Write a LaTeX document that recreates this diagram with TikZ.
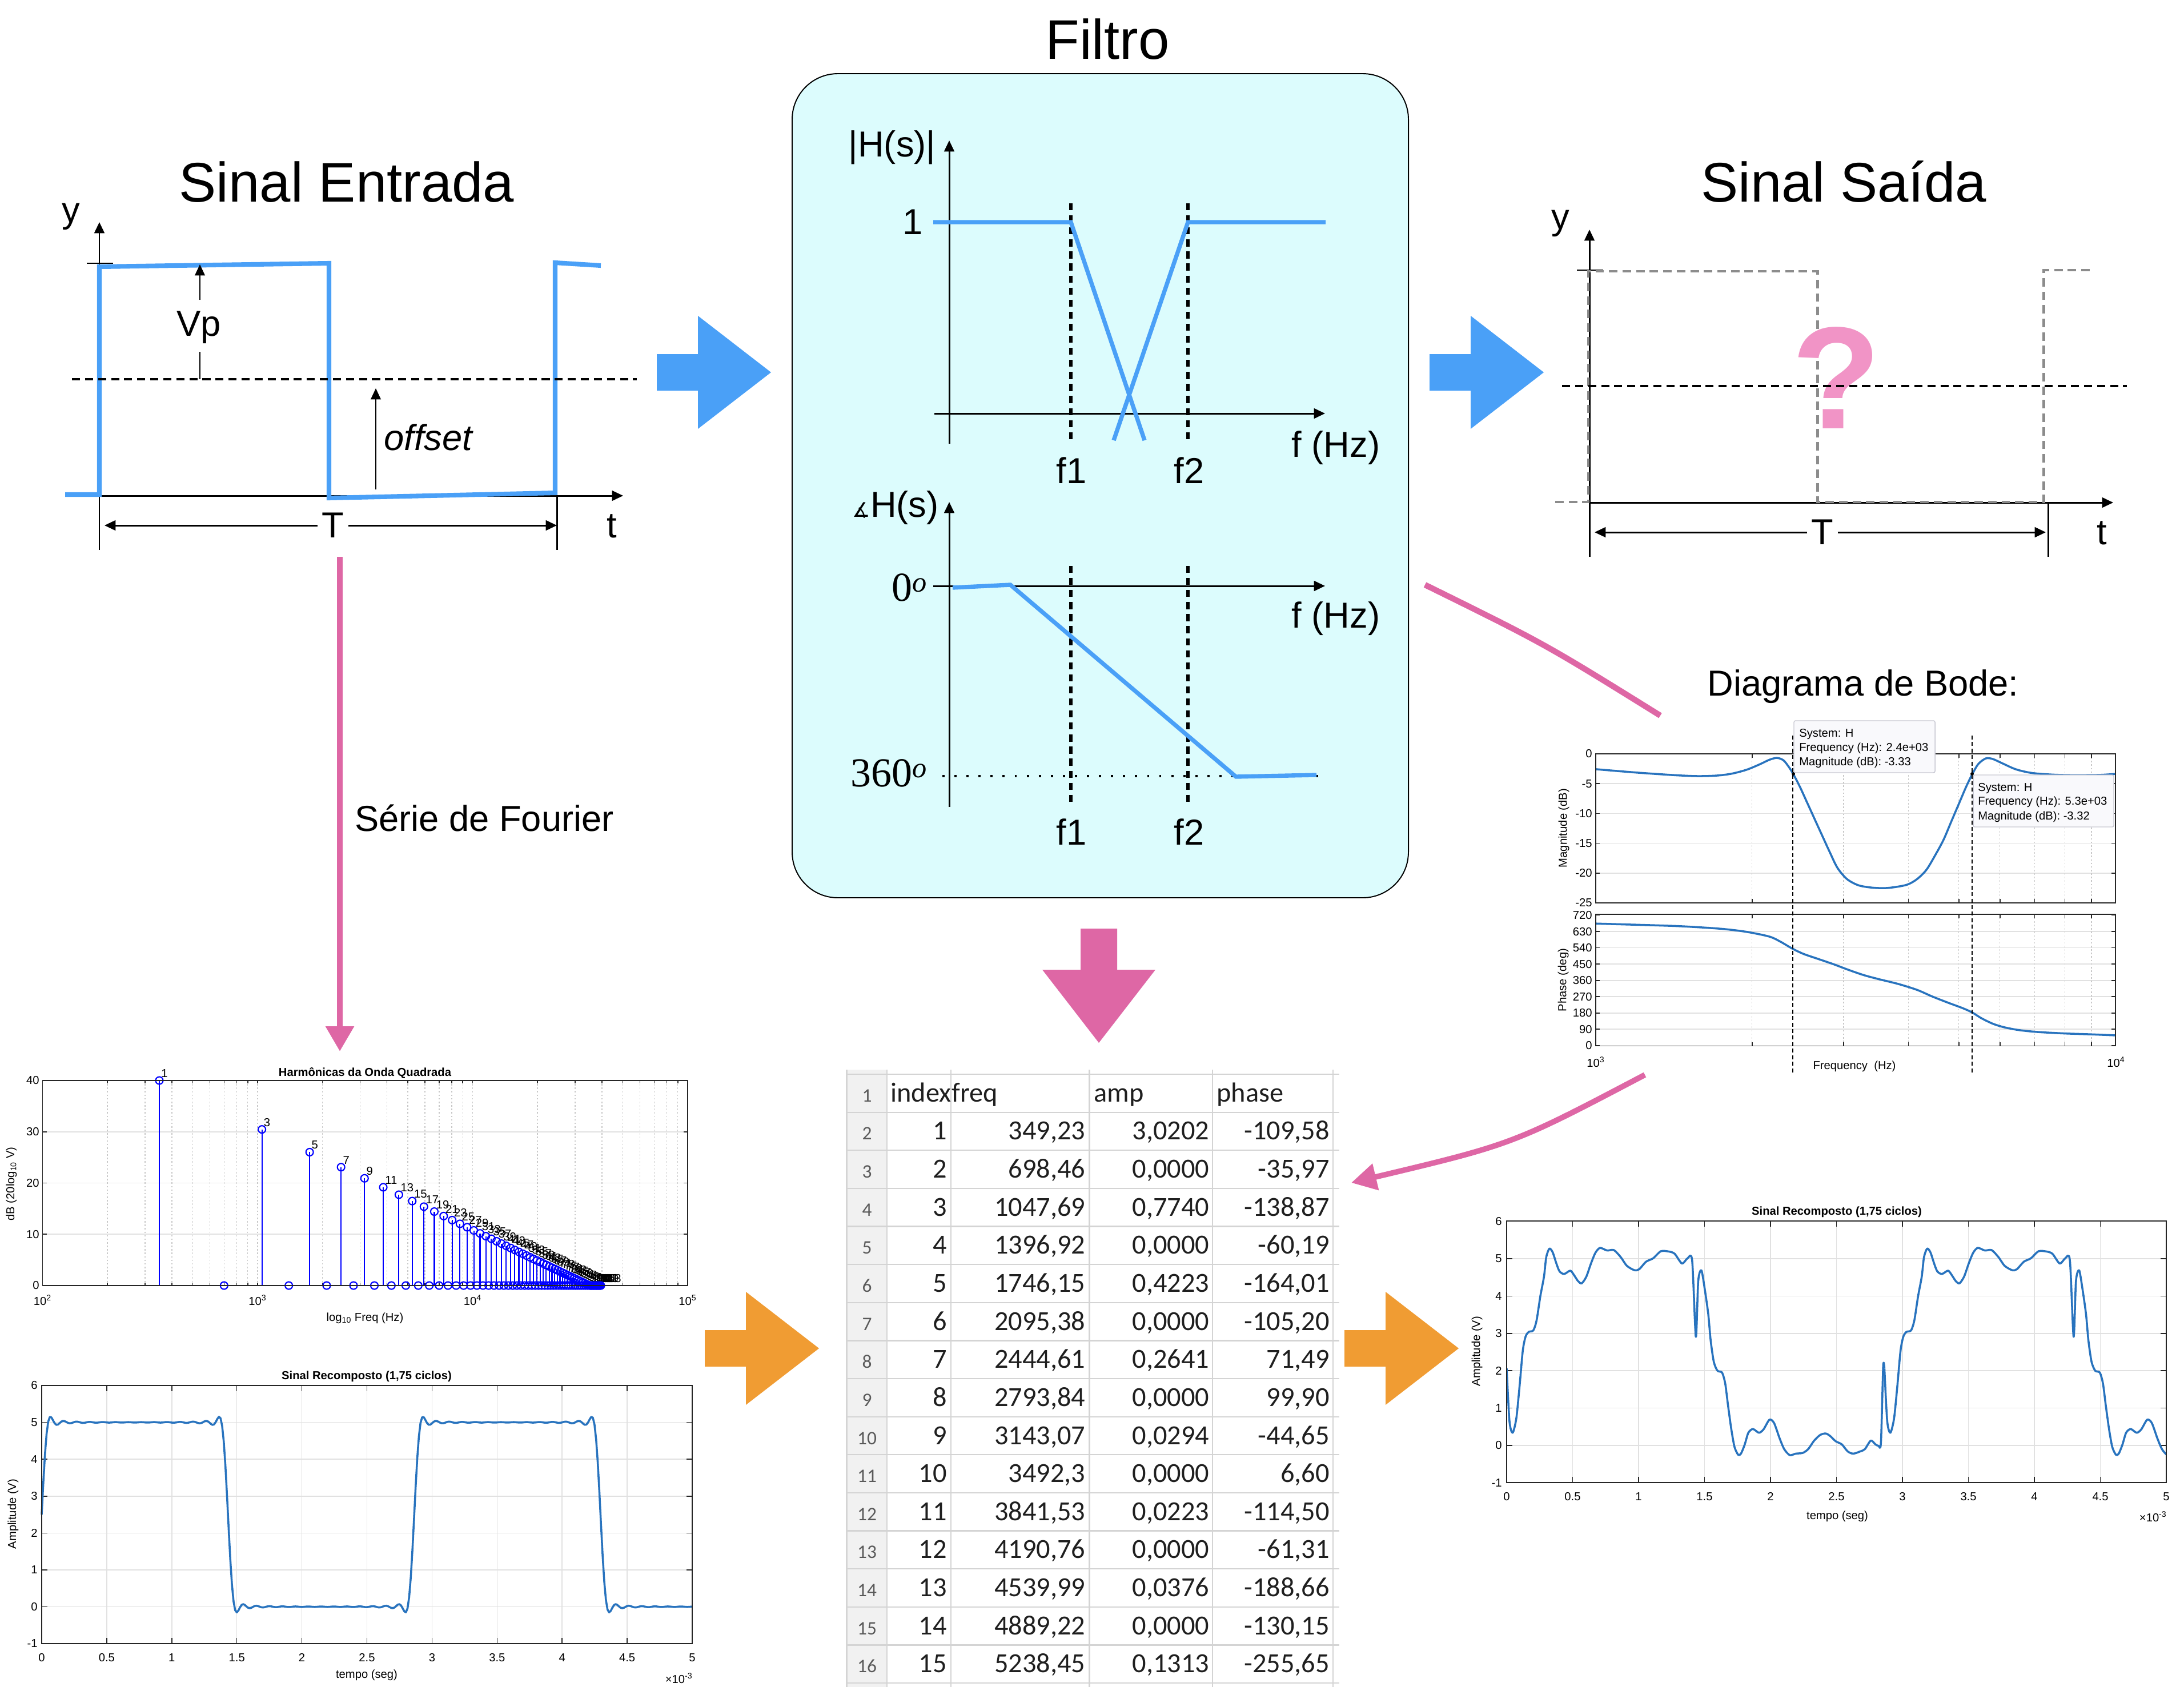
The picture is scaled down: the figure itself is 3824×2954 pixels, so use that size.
\documentclass[tikz,border=0pt]{standalone}
\usepackage{fontspec}
\setmainfont{Liberation Sans}
\newfontfamily\serifnum{Liberation Serif}
\newfontfamily\tabfont{Carlito}
\newfontfamily\symfont{DejaVu Sans}
\usetikzlibrary{arrows.meta}
\definecolor{sigblue}{RGB}{74,160,247}
\definecolor{pinkc}{RGB}{222,103,165}
\definecolor{qpink}{RGB}{241,148,198}
\definecolor{orangec}{RGB}{240,156,51}
\definecolor{cyanfill}{RGB}{220,252,253}
\definecolor{mlblue}{RGB}{40,115,190}
\definecolor{gridc}{RGB}{225,225,225}
\definecolor{gridd}{RGB}{200,200,200}
\definecolor{axc}{RGB}{38,38,38}
\definecolor{dgray}{RGB}{140,140,140}
\definecolor{tgrid}{RGB}{212,212,212}
\definecolor{thead}{RGB}{241,241,241}
\definecolor{ttext}{RGB}{90,90,90}
\definecolor{tipfill}{RGB}{249,249,252}
\definecolor{tipdraw}{RGB}{200,200,210}
\tikzset{
  blockarrow/.pic={\fill (0,-32) -- (72,-32) -- (72,-99) -- (200,0) -- (72,99) -- (72,32) -- (0,32) -- cycle;},
  titlefont/.style={font=\fontsize{55.6}{62}\selectfont, anchor=base, inner sep=0pt},
  lbl/.style={font=\fontsize{36}{40}\selectfont, inner sep=0pt},
  axline/.style={black, line width=1.7pt},
  thinline/.style={black, line width=1.2pt},
  axarrow/.style={-{Triangle[length=11pt,width=10pt]}},
  sigline/.style={sigblue, line width=4.6pt},
  fsig/.style={sigblue, line width=4.2pt},
  dotline/.style={black, line width=2.8pt, dash pattern=on 8pt off 5pt},
  graydash/.style={dgray, line width=2.8pt, dash pattern=on 8.5pt off 5pt},
  fdot/.style={black, line width=3.2pt, dash pattern=on 7pt off 5pt},
  pinkline/.style={pinkc, line width=5.8pt},
  mlfont/.style={font=\fontsize{11.5}{13}\selectfont, inner sep=0pt},
  mltitle/.style={font=\fontsize{11.5}{13}\selectfont\bfseries, inner sep=0pt, anchor=base},
  mlbox/.style={axc, line width=1.1pt},
  mltick/.style={axc, line width=0.9pt},
  gridh/.style={gridc, line width=0.9pt},
  gridv/.style={gridd, line width=0.8pt, dash pattern=on 1.5pt off 2pt},
  mlcurve/.style={mlblue, line width=2pt, line join=round},
  stem/.style={blue, line width=1.2pt},
  tline/.style={tgrid, line width=1.3pt},
  tcell/.style={font=\tabfont\fontsize{27.5}{30}\selectfont, text=black!88, inner sep=0pt},
  rownum/.style={font=\tabfont\fontsize{19}{20}\selectfont, text=ttext, inner sep=0pt, anchor=base},
  tipbox/.style={fill=tipfill, draw=tipdraw, line width=0.8pt, rounded corners=1.5pt},
}
\begin{document}
\begin{tikzpicture}[x=0.2mm,y=-0.2mm,
  declare function={sqth(\x)=mod(125.7228*\x,360);
   sqw(\x)=2.5+3.17976*sin(sqth(\x))+1.05102*sin(3*sqth(\x))+0.61996*sin(5*sqth(\x))+0.43147*sin(7*sqth(\x))+0.32386*sin(9*sqth(\x))+0.25306*sin(11*sqth(\x))+0.20210*sin(13*sqth(\x))+0.16306*sin(15*sqth(\x))+0.13172*sin(17*sqth(\x))+0.10558*sin(19*sqth(\x))+0.08304*sin(21*sqth(\x))+0.06284*sin(23*sqth(\x))+0.04369*sin(25*sqth(\x))+0.02266*sin(27*sqth(\x));}]
\useasboundingbox (0,0) rectangle (3824,2954);
\fill[white] (0,0) rectangle (3824,2954);

%================ Input signal ================
\node[titlefont] (tin) at (607,353) {Sinal Entrada};
\node[lbl, anchor=base] (yin) at (124,389) {y};
\draw[axline, axarrow] (174,963) -- (174,389);
\draw[axline] (152,461) -- (198,461);
\draw[axline, axarrow] (174,868) -- (1091,868);
\draw[axline] (975,868) -- (975,963);
\draw[sigline] (114,866) -- (174,866) -- (174,467) -- (576,461) -- (576,872) -- (972,863) -- (972,460) -- (1052,465);
\draw[dotline] (126,664) -- (1115,664);
\node[lbl] (vp) at (348,573) {Vp};
\draw[thinline, axarrow] (350,525) -- (350,463);
\draw[thinline] (350,616) -- (350,664);
\draw[thinline, axarrow] (658,857) -- (658,680);
\node[lbl, anchor=base west, font=\fontsize{36}{40}\selectfont\itshape] (off) at (672,788) {offset};
\node[lbl, inner sep=4pt] (Tin) at (583,920) {T};
\draw[axline, axarrow] (Tin.west) -- (183,920);
\draw[axline, axarrow] (Tin.east) -- (975,920);
\node[lbl, anchor=base] (tin2) at (1071,941) {t};

%================ Output signal ================
\node[titlefont] (tout) at (3228,353) {Sinal Saída};
\node[lbl, anchor=base] (yout) at (2732,401) {y};
\draw[axline, axarrow] (2783,975) -- (2783,402);
\draw[axline] (2761,473) -- (2807,473);
\draw[axline, axarrow] (2783,880) -- (3700,880);
\draw[axline] (3586,880) -- (3586,975);
\draw[graydash] (2723,879) -- (2781,879) -- (2781,475) -- (3182,475) -- (3182,879) -- (3578,879) -- (3578,473) -- (3661,473);
\node[anchor=base, inner sep=0pt, text=qpink, font=\fontsize{145}{150}\selectfont\bfseries] (qm) at (3215,750) {?};
\draw[dotline] (2735,676) -- (3724,676);
\node[lbl, inner sep=4pt] (Tout) at (3191,932) {T};
\draw[axline, axarrow] (Tout.west) -- (2792,932);
\draw[axline, axarrow] (Tout.east) -- (3582,932);
\node[lbl, anchor=base] (tout2) at (3680,953) {t};

%================ Filter ================
\node[titlefont] (tfil) at (1939,104) {Filtro};
\draw[line width=1.1pt, fill=cyanfill, rounded corners=16mm] (1387,129) rectangle (2466,1572);
% magnitude
\draw[axline, axarrow] (1662,777) -- (1662,246);
\draw[axline, axarrow] (1636,724) -- (2320,724);
\draw[fdot] (1875,356) -- (1875,776);
\draw[fdot] (2080,356) -- (2080,776);
\draw[fsig] (1634,389) -- (1875,389) -- (2004,771);
\draw[fsig] (1950,771) -- (2080,389) -- (2321,389);
\node[lbl, anchor=base] (hmag) at (1562,274) {|H(s)|};
\node[lbl, anchor=base] (one) at (1598,410) {1};
\node[lbl, anchor=base] (fa1) at (1876,846) {f1};
\node[lbl, anchor=base] (fa2) at (2082,846) {f2};
\node[lbl, anchor=base] (fhz1) at (2339,800) {f (Hz)};
% phase
\draw[axline, axarrow] (1662,1413) -- (1662,879);
\draw[axline, axarrow] (1634,1026) -- (2320,1026);
\draw[fdot] (1875,991) -- (1875,1408);
\draw[fdot] (2080,991) -- (2080,1408);
\draw[black, line width=2.2pt, dash pattern=on 2.2pt off 9.8pt] (1650,1359) -- (2324,1359);
\draw[fsig] (1668,1029) -- (1769,1024) -- (2164,1360) -- (2305,1357);
\node[lbl, anchor=base] (hph) at (1568,905) {{\symfont\fontsize{20}{20}\selectfont ∡}H(s)};
\node[lbl, anchor=base east, font=\serifnum\fontsize{41}{44}\selectfont] (zdeg) at (1624,1052) {0\textsuperscript{\itshape o}};
\node[lbl, anchor=base east, font=\serifnum\fontsize{41}{44}\selectfont] (tdeg) at (1624,1377) {360\textsuperscript{\itshape o}};
\node[lbl, anchor=base] (fb1) at (1876,1479) {f1};
\node[lbl, anchor=base] (fb2) at (2082,1479) {f2};
\node[lbl, anchor=base] (fhz2) at (2339,1099) {f (Hz)};

%================ Block arrows ================
\pic[color=sigblue] (arrA) at (1150,652) {blockarrow};
\pic[color=sigblue] (arrB) at (2503,652) {blockarrow};
\pic[color=pinkc, rotate=-90] (arrC) at (1924,1626) {blockarrow};
\pic[color=orangec] (arrD) at (1234,2361) {blockarrow};
\pic[color=orangec] (arrE) at (2354,2361) {blockarrow};

%================ Pink connectors ================
\coordinate (fs0) at (595,975);
\coordinate (fs1) at (595,1841);
\draw[pinkline, line width=6pt, -{Triangle[length=25pt,width=27pt]}] (fs0) -- (fs1);
\node[lbl, anchor=base] (fourier) at (848,1455) {Série de Fourier};
\coordinate (bd0) at (2495,1024);
\coordinate (bd1) at (2907,1253);
\draw[pinkline] (bd0) .. controls (2705,1127.5) .. (bd1);
\coordinate (bt0) at (2880,1882);
\coordinate (bt1) at (2366,2071);
\draw[pinkline, line width=5.5pt, -{Triangle[length=25pt,width=26pt]}] (bt0) .. controls (2649,2003.5) .. (bt1);
\node[lbl, anchor=base] (bodet) at (3262,1218) {Diagrama de Bode:};

%================ Bode plot ================
\foreach \hv in {-5,-10,-15,-20} \draw[gridh] (2794,{1320-10.44*\hv}) -- (3703.5,{1320-10.44*\hv});
\foreach \hv in {90,180,...,630} \draw[gridh] (2794,{1830.7-0.3167*\hv}) -- (3703.5,{1830.7-0.3167*\hv});
\foreach \hk in {2,...,9} {
  \pgfmathsetmacro\bxx{2794+909.5*log10(\hk)}
  \draw[gridv] (\bxx,1320) -- (\bxx,1581);
  \draw[gridv] (\bxx,1600.6) -- (\bxx,1831.5);
  \draw[mltick] (\bxx,1320) -- (\bxx,1327) (\bxx,1581) -- (\bxx,1574);
  \draw[mltick] (\bxx,1600.6) -- (\bxx,1607.6) (\bxx,1831.5) -- (\bxx,1824.5);
}
\foreach \hv in {0,-5,-10,-15,-20,-25} {
  \draw[mltick] (2794,{1320-10.44*\hv}) -- (2801,{1320-10.44*\hv}) (3703.5,{1320-10.44*\hv}) -- (3696.5,{1320-10.44*\hv});
  \node[mlfont, anchor=east] at (2788,{1320-10.44*\hv}) {\hv};
}
\foreach \hv in {0,90,180,...,720} {
  \draw[mltick] (2794,{1830.7-0.3167*\hv}) -- (2801,{1830.7-0.3167*\hv}) (3703.5,{1830.7-0.3167*\hv}) -- (3696.5,{1830.7-0.3167*\hv});
  \node[mlfont, anchor=east] at (2788,{1830.7-0.3167*\hv}) {\hv};
}
\draw[mlcurve] plot[smooth, tension=0.5] coordinates {(2794.2,1346.9) (2865.8,1352.8) (2932.1,1357.3) (2971.9,1359.0) (3005.1,1358.1) (3031.6,1354.8) (3058.2,1347.8) (3081.4,1338.2) (3098.0,1330.4) (3111.2,1327.1) (3122.5,1331.2) (3131.1,1341.6) (3139.1,1354.0) (3151.0,1376.8) (3164.3,1405.8) (3177.5,1434.8) (3190.8,1463.9) (3204.1,1492.9) (3217.3,1519.8) (3233.9,1539.3) (3253.8,1550.1) (3277.0,1554.2) (3300.3,1555.1) (3320.1,1553.0) (3340.0,1548.8) (3356.6,1539.3) (3373.2,1522.7) (3389.8,1494.9) (3403.1,1470.1) (3416.3,1439.0) (3429.6,1407.9) (3442.9,1376.8) (3454.1,1354.0) (3464.1,1337.4) (3477.3,1327.9) (3489.3,1329.1) (3505.9,1336.6) (3529.1,1346.9) (3555.6,1353.2) (3588.8,1356.1) (3628.6,1357.3) (3675.0,1356.9) (3703.5,1355.2)};
\draw[mlcurve] plot[smooth, tension=0.5] coordinates {(2794.2,1617.2) (2865.8,1619.3) (2932.1,1621.4) (2978.6,1623.9) (3018.4,1626.8) (3058.2,1631.7) (3098.0,1640.0) (3117.9,1649.2) (3137.8,1660.8) (3157.7,1670.3) (3184.2,1679.4) (3210.7,1688.5) (3237.2,1698.5) (3263.8,1707.6) (3290.3,1714.7) (3323.5,1722.9) (3356.6,1733.3) (3383.2,1744.9) (3409.7,1755.3) (3436.2,1765.2) (3452.8,1772.7) (3469.4,1783.0) (3489.3,1792.6) (3509.2,1798.8) (3535.7,1803.8) (3568.9,1807.1) (3615.3,1809.6) (3661.7,1811.2) (3703.5,1812.9)};
\draw[mlbox] (2794,1320) rectangle (3703.5,1581);
\draw[mlbox] (2794,1600.6) rectangle (3703.5,1831.5);
\draw[black, line width=0.8pt, dash pattern=on 4pt off 2.5pt] (3139,1288) -- (3139,1878);
\draw[black, line width=0.8pt, dash pattern=on 4pt off 2.5pt] (3453,1288) -- (3453,1878);
\fill[black] (3140,1355) circle[radius=0.6mm];
\fill[black] (3453,1355) circle[radius=0.6mm];
\draw[tipbox] (3141,1262) rectangle (3388,1353);
\draw[tipbox] (3455,1357) rectangle (3701,1448);
\node[mlfont, anchor=base west] at (3150,1290) {System: H};
\node[mlfont, anchor=base west] at (3150,1315) {Frequency (Hz): 2.4e+03};
\node[mlfont, anchor=base west] at (3150,1340) {Magnitude (dB): -3.33};
\node[mlfont, anchor=base west] at (3463,1385) {System: H};
\node[mlfont, anchor=base west] at (3463,1409) {Frequency (Hz): 5.3e+03};
\node[mlfont, anchor=base west] at (3463,1435) {Magnitude (dB): -3.32};
\node[mlfont, rotate=90] at (2738,1450) {Magnitude (dB)};
\node[mlfont, rotate=90] at (2737,1716) {Phase (deg)};
\node[mlfont, anchor=base] at (2794,1868) {10\textsuperscript{3}};
\node[mlfont, anchor=base] at (3705,1868) {10\textsuperscript{4}};
\node[mlfont, anchor=base] at (3247,1872) {Frequency\ \ (Hz)};

%================ Harmonics plot ================
\foreach \hv in {10,20,30} \draw[gridh] (74.5,{2251-8.975*\hv}) -- (1204,{2251-8.975*\hv});
\foreach \hm in {0,1,2} {
  \foreach \hk in {1,...,9} {
    \pgfmathsetmacro\gx{74.5+376.5*\hm+376.5*log10(\hk)}
    \draw[gridv] (\gx,1892) -- (\gx,2251);
    \draw[mltick] (\gx,2251) -- (\gx,2246) (\gx,1892) -- (\gx,1897);
  }
}
\foreach \hv in {0,10,20,30,40} {
  \draw[mltick] (74.5,{2251-8.975*\hv}) -- (82,{2251-8.975*\hv}) (1204,{2251-8.975*\hv}) -- (1196.5,{2251-8.975*\hv});
  \node[mlfont, anchor=east] at (69,{2251-8.975*\hv}) {\hv};
}
\foreach \hk in {2,4,...,112} {
  \pgfmathsetmacro\hx{279.0+376.5*log10(\hk)}
  \draw[stem] (\hx,2251) circle[radius=1.3mm];
}
\foreach \hk in {1,3,...,113} {
  \pgfmathsetmacro\hx{279.0+376.5*log10(\hk)}
  \pgfmathsetmacro\hy{min(2251,1892+179.5*log10(\hk))}
  \draw[stem] (\hx,2251) -- (\hx,\hy);
  \draw[stem] (\hx,\hy) circle[radius=1.3mm];
  \node[mlfont, anchor=south west] at ({\hx+3},{\hy-5}) {\hk};
}
\draw[mlbox] (74.5,1892) rectangle (1204,2251);
\node[mltitle] (htitle) at (639,1884) {Harmônicas da Onda Quadrada};
\foreach \hm/\hl in {0/2,1/3,2/4,3/5} \node[mlfont, anchor=base] at ({74.5+376.5*\hm},2285) {10\textsuperscript{\hl}};
\node[mlfont, anchor=base] at (639,2313) {log\textsubscript{10} Freq (Hz)};
\node[mlfont, rotate=90] at (20,2073) {dB (20log\textsubscript{10} V)};

%================ Left recomposed ================
\foreach \tv in {0.5,1,1.5,2,2.5,3,3.5,4,4.5} {
  \draw[gridh] ({73+227.8*\tv},2426) -- ({73+227.8*\tv},2878);
  \draw[mltick] ({73+227.8*\tv},2426) -- ({73+227.8*\tv},2436) ({73+227.8*\tv},2878) -- ({73+227.8*\tv},2868);
}
\foreach \vv in {0,...,5} \draw[gridh] (73,{2813.4-64.57*\vv}) -- (1212,{2813.4-64.57*\vv});
\foreach \vv in {-1,...,6} {
  \draw[mltick] (73,{2813.4-64.57*\vv}) -- (83,{2813.4-64.57*\vv}) (1212,{2813.4-64.57*\vv}) -- (1202,{2813.4-64.57*\vv});
  \node[mlfont, anchor=east] at (66,{2813.4-64.57*\vv}) {\vv};
}
\foreach \tv/\tl in {0/0,0.5/0.5,1/1,1.5/1.5,2/2,2.5/2.5,3/3,3.5/3.5,4/4,4.5/4.5,5/5}
  \node[mlfont, anchor=base] at ({73+227.8*\tv},2909) {\tl};
\draw[mlcurve] plot[domain=0:5, samples=401, variable=\x] ({73+227.8*\x},{2813.4-64.57*sqw(\x)});
\draw[mlbox] (73,2426) rectangle (1212,2878);
\node[mltitle] (ltitle) at (642,2415) {Sinal Recomposto (1,75 ciclos)};
\node[mlfont, anchor=base] at (642,2938) {tempo (seg)};
\node[mlfont, anchor=base east] at (1213,2947) {×10\textsuperscript{-3}};
\node[mlfont, rotate=90] at (23,2651) {Amplitude (V)};

%================ Right recomposed ================
\foreach \tv in {0.5,1,1.5,2,2.5,3,3.5,4,4.5} {
  \draw[gridh] ({2638+231*\tv},2138) -- ({2638+231*\tv},2596);
  \draw[mltick] ({2638+231*\tv},2138) -- ({2638+231*\tv},2148) ({2638+231*\tv},2596) -- ({2638+231*\tv},2586);
}
\foreach \vv in {0,...,5} \draw[gridh] (2638,{2531-65.4*\vv}) -- (3793,{2531-65.4*\vv});
\foreach \vv in {-1,...,6} {
  \draw[mltick] (2638,{2531-65.4*\vv}) -- (2648,{2531-65.4*\vv}) (3793,{2531-65.4*\vv}) -- (3783,{2531-65.4*\vv});
  \node[mlfont, anchor=east] at (2630,{2531-65.4*\vv}) {\vv};
}
\foreach \tv/\tl in {0/0,0.5/0.5,1/1,1.5/1.5,2/2,2.5/2.5,3/3,3.5/3.5,4/4,4.5/4.5,5/5}
  \node[mlfont, anchor=base] at ({2638+231*\tv},2627) {\tl};
\begin{scope}
\clip (2638,2130) rectangle (3793,2600);
\foreach \ox in {2638,3299.4} {
\begin{scope}[shift={(\ox,2531)}, xscale=231, yscale=-65.4]
\draw[mlcurve] plot[smooth, tension=0.45] coordinates {(0,2.06) (0.021,0.66) (0.045,0.34) (0.073,0.72) (0.098,1.59) (0.122,2.53) (0.143,2.91) (0.167,3.04) (0.202,3.08) (0.227,3.35) (0.255,3.99) (0.283,4.52) (0.300,5.04) (0.324,5.27) (0.349,5.17) (0.377,4.87) (0.401,4.66) (0.436,4.59) (0.482,4.68) (0.509,4.57) (0.541,4.40) (0.569,4.34) (0.604,4.52) (0.639,4.87) (0.673,5.16) (0.708,5.29) (0.761,5.22) (0.813,5.23) (0.865,5.04) (0.911,4.81) (0.970,4.69) (1.005,4.72) (1.057,4.92) (1.110,5.01) (1.169,5.20) (1.232,5.19) (1.274,5.13) (1.329,4.87) (1.371,5.01) (1.406,4.95) (1.434,2.91) (1.452,4.40) (1.476,4.69) (1.500,4.22) (1.528,3.52) (1.546,2.82) (1.570,2.24) (1.598,2.00) (1.633,1.95) (1.657,1.65) (1.678,1.07) (1.703,0.43) (1.727,-0.04) (1.755,-0.25) (1.776,-0.22) (1.804,0.02) (1.832,0.34) (1.867,0.44) (1.912,0.34) (1.947,0.43) (1.992,0.69) (2.027,0.60) (2.069,0.19) (2.104,-0.10) (2.146,-0.26) (2.191,-0.22) (2.244,-0.20) (2.285,-0.10) (2.331,0.13) (2.376,0.28) (2.418,0.32) (2.453,0.25) (2.495,0.11) (2.540,0.03) (2.585,-0.16) (2.627,-0.22) (2.680,-0.16) (2.715,-0.10) (2.760,0.13) (2.795,0.03) (2.819,-0.01) (2.837,0.08) (2.854,2.12) (2.8634,2.06)};
\end{scope}
}
\end{scope}
\draw[mlbox] (2638,2138) rectangle (3793,2596);
\node[mltitle] (rtitle) at (3216,2127) {Sinal Recomposto (1,75 ciclos)};
\node[mlfont, anchor=base] at (3217,2660) {tempo (seg)};
\node[mlfont, anchor=base east] at (3794,2664) {×10\textsuperscript{-3}};
\node[mlfont, rotate=90] at (2586,2366) {Amplitude (V)};

%================ Table ================
\fill[thead] (1482.6,1873) rectangle (1553.2,2954);
\foreach \rr in {0,...,16} \draw[tline] (1482.6,{1881+66.63*\rr}) -- (2345,{1881+66.63*\rr});
\foreach \cx in {1482.6,1553.2,1665.2,1907.4,2123.2,2333.8} \draw[tline] (\cx,1873) -- (\cx,2954);
\foreach \rr in {1,...,16} \node[rownum] at (1518,{1881+66.63*\rr-18.3}) {\rr};
\node[tcell, anchor=base west] (hidx) at (1559,1929) {index};
\node[tcell, anchor=base west] (hfrq) at (1666,1929) {freq};
\node[tcell, anchor=base west] (hamp) at (1915,1929) {amp};
\node[tcell, anchor=base west] (hpha) at (2130,1929) {phase};
\foreach \rr/\ci/\cf/\ca/\cp in {2/1/349{,}23/3{,}0202/-109{,}58, 3/2/698{,}46/0{,}0000/-35{,}97, 4/3/1047{,}69/0{,}7740/-138{,}87, 5/4/1396{,}92/0{,}0000/-60{,}19, 6/5/1746{,}15/0{,}4223/-164{,}01, 7/6/2095{,}38/0{,}0000/-105{,}20, 8/7/2444{,}61/0{,}2641/71{,}49, 9/8/2793{,}84/0{,}0000/99{,}90, 10/9/3143{,}07/0{,}0294/-44{,}65, 11/10/3492{,}3/0{,}0000/6{,}60, 12/11/3841{,}53/0{,}0223/-114{,}50, 13/12/4190{,}76/0{,}0000/-61{,}31, 14/13/4539{,}99/0{,}0376/-188{,}66, 15/14/4889{,}22/0{,}0000/-130{,}15, 16/15/5238{,}45/0{,}1313/-255{,}65} {
  \pgfmathsetmacro\by{1881+66.63*\rr-18.3}
  \node[tcell, anchor=base east] at (1658,\by) {\ci};
  \node[tcell, anchor=base east] at (1900.5,\by) {\cf};
  \node[tcell, anchor=base east] at (2117.5,\by) {\ca};
  \node[tcell, anchor=base east] at (2328,\by) {\cp};
}
\end{tikzpicture}
\end{document}
